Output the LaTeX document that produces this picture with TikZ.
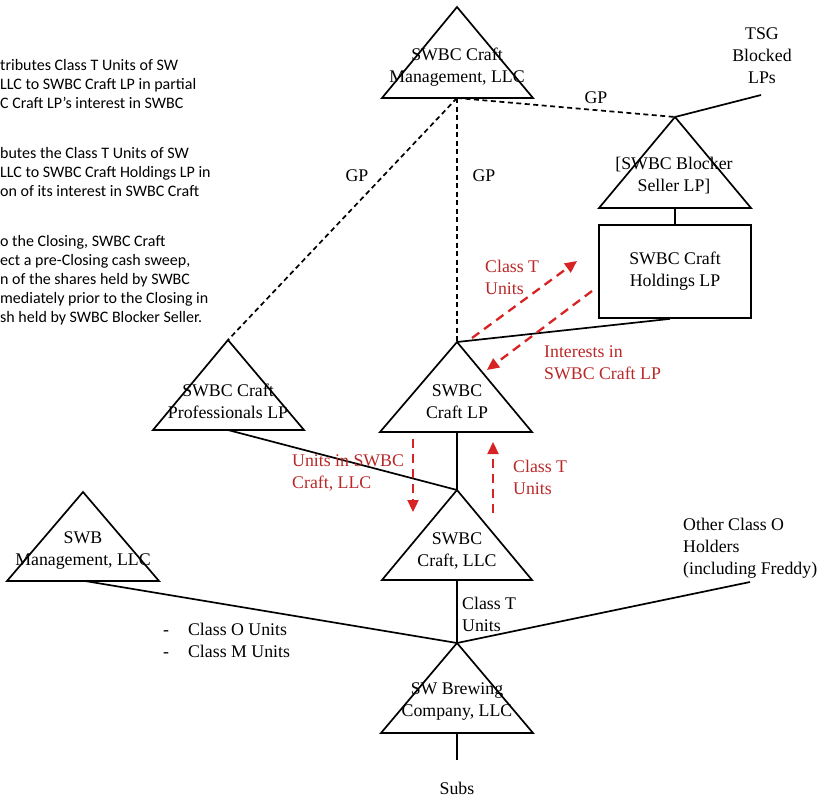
\documentclass[tikz,border=0pt]{standalone}
\usepackage{fontspec}
\setmainfont{Liberation Serif}
\newfontfamily\calib{Carlito}
\usetikzlibrary{arrows.meta}
\definecolor{redarrow}{RGB}{215,35,35}
\definecolor{redtext}{RGB}{185,40,40}
\begin{document}
\begin{tikzpicture}[x=1pt,y=-1pt,
  tri/.style={draw=black, line width=1.7pt, line join=miter},
  lnk/.style={draw=black, line width=1.7pt},
  gplink/.style={draw=black, line width=1.7pt, dash pattern=on 5pt off 3.5pt},
  flow/.style={draw=redarrow, line width=2.3pt, dash pattern=on 9pt off 6pt, -{Triangle[length=12pt,width=11pt]}},
  lbl/.style={font=\fontsize{17.8}{22}\selectfont, align=center, inner sep=0pt},
  lbll/.style={lbl, align=left, anchor=west},
  redlbl/.style={lbll, text=redtext},
  note/.style={font=\calib\fontsize{16}{19}\selectfont, align=left, inner sep=0pt, anchor=west}]
\useasboundingbox (0,0) rectangle (821,801);

% ---- left note text (cut off at the left edge)
\node[note] (n1) at (0,84) {tributes Class T Units of SW\\LLC to SWBC Craft LP in partial\\C Craft LP’s interest in SWBC};
\node[note] (n2) at (0,172) {butes the Class T Units of SW\\LLC to SWBC Craft Holdings LP in\\on of its interest in SWBC Craft};
\node[note] (n3) at (0,280) {o the Closing, SWBC Craft\\ect a pre-Closing cash sweep,\\n of the shares held by SWBC\\mediately prior to the Closing in\\sh held by SWBC Blocker Seller.};

% ---- triangle corner coordinates
\coordinate (mA) at (457,7);   \coordinate (mL) at (382,98);  \coordinate (mR) at (533,98);  \coordinate (mB) at (457,98);
\coordinate (bA) at (675,117); \coordinate (bL) at (599,208); \coordinate (bR) at (751,208); \coordinate (bB) at (675,208);
\coordinate (cA) at (457,342); \coordinate (cL) at (380,432); \coordinate (cR) at (532,432); \coordinate (cB) at (457,432);
\coordinate (pA) at (228,340); \coordinate (pL) at (153,430); \coordinate (pR) at (304,430); \coordinate (pB) at (228,430);
\coordinate (lA) at (457,490); \coordinate (lL) at (382,580); \coordinate (lR) at (532,580); \coordinate (lB) at (457,580);
\coordinate (wA) at (457,643); \coordinate (wL) at (381,733); \coordinate (wR) at (533,733); \coordinate (wB) at (457,733);
\coordinate (sA) at (83,492);  \coordinate (sL) at (7,581);   \coordinate (sR) at (159,581); \coordinate (sB) at (85,581);
\coordinate (tsgEnd) at (761,95);
\coordinate (othEnd) at (750,582);
\coordinate (subsEnd) at (457,760);

% ---- triangles
\draw[tri] (mA) -- (mL) -- (mR) -- cycle;
\draw[tri] (bA) -- (bL) -- (bR) -- cycle;
\draw[tri] (cA) -- (cL) -- (cR) -- cycle;
\draw[tri] (pA) -- (pL) -- (pR) -- cycle;
\draw[tri] (lA) -- (lL) -- (lR) -- cycle;
\draw[tri] (wA) -- (wL) -- (wR) -- cycle;
\draw[tri] (sA) -- (sL) -- (sR) -- cycle;

% ---- box
\node[lbl, draw=black, line width=1.7pt, minimum width=152pt, minimum height=93pt] (hold) at (675,271.5) {SWBC Craft\\Holdings LP};

% ---- entity texts
\node[lbl] (mgmtT) at (457,67) {SWBC Craft\\Management, LLC};
\node[lbl] (blkT) at (674,176) {[SWBC Blocker\\Seller LP]};
\node[lbl] (tsg) at (762,56) {TSG\\Blocked\\LPs};
\node[lbl] (lpT) at (457,402) {SWBC\\Craft LP};
\node[lbl] (profT) at (228,401) {SWBC Craft\\Professionals LP};
\node[lbl] (llcT) at (457,551) {SWBC\\Craft, LLC};
\node[lbl] (brewT) at (457,702) {SW Brewing\\Company, LLC};
\node[lbl] (swbT) at (83,551) {SWB\\Management, LLC};
\node[lbl] (subs) at (457,788) {Subs};
\node[lbll] (other) at (683,548) {Other Class O\\Holders\\(including Freddy)};
\node[lbll] (ctu) at (462,614) {Class T\\Units};
\node[lbll] (om) at (163,642) {\begin{tabular}{@{}l@{\hspace{19pt}}l@{}}-&Class O Units\\[0pt]-&Class M Units\end{tabular}};

% ---- GP labels
\node[lbl] (gp1) at (596,98) {GP};
\node[lbl] (gp2) at (357,176) {GP};
\node[lbl] (gp3) at (484,176) {GP};

% ---- connectors
\draw[gplink] (mB) -- (bA);
\draw[gplink] (mB) -- (cA);
\draw[gplink] (mB) -- (pA);
\draw[lnk] (bA) -- (tsgEnd);
\draw[lnk] (bB) -- (hold.north);
\draw[lnk] (cA) -- ([xshift=-5pt]hold.south);
\draw[lnk] (pB) -- (lA);
\draw[lnk] (cB) -- (lA);
\draw[lnk] (lB) -- (wA);
\draw[lnk] (sB) -- (wA);
\draw[lnk] (wA) -- (othEnd);
\draw[lnk] (wB) -- (subsEnd);

% ---- red flows
\coordinate (f1s) at (472,338); \coordinate (f1e) at (577,261);
\coordinate (f2s) at (592,291); \coordinate (f2e) at (487,370);
\coordinate (f3s) at (413,439); \coordinate (f3e) at (413,512);
\coordinate (f4s) at (493,513); \coordinate (f4e) at (493,442);
\draw[flow] (f1s) -- (f1e);
\draw[flow] (f2s) -- (f2e);
\draw[flow] (f3s) -- (f3e);
\draw[flow] (f4s) -- (f4e);
\node[redlbl] (r1) at (485,277) {Class T\\Units};
\node[redlbl] (r2) at (544,363) {Interests in\\SWBC Craft LP};
\node[redlbl] (r3) at (292,473) {Units in SWBC\\Craft, LLC};
\node[redlbl] (r4) at (513,477) {Class T\\Units};
\end{tikzpicture}
\end{document}
